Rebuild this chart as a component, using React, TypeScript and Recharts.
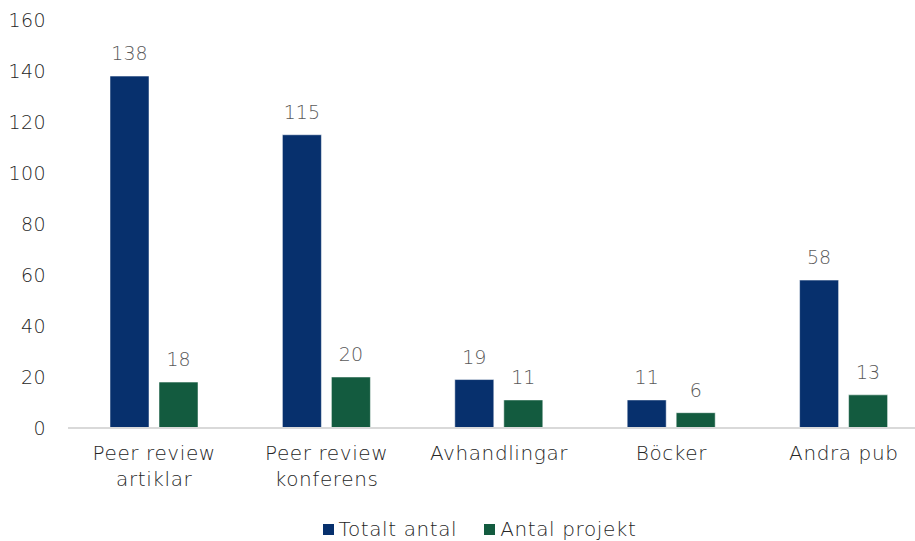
import React from "react";
import { BarChart, Bar, XAxis, YAxis, Legend, LabelList } from "recharts";

const categories = ["Peer review artiklar", "Peer review konferens", "Avhandlingar", "Böcker", "Andra pub"];
const totaltAntal = [138, 115, 19, 11, 58];
const antalProjekt = [18, 20, 11, 6, 13];
const yTicks = [0, 20, 40, 60, 80, 100, 120, 140, 160];

const BLUE = "#07306d";
const GREEN = "#135b3f";
const FONT = "'DejaVu Sans', sans-serif";
const WEIGHT = 200;

const data = categories.map((name, i) => ({
  name,
  totalt: totaltAntal[i],
  projekt: antalProjekt[i],
}));

// split "Peer review xxx" into two lines like the original
const CategoryTick = (props: any) => {
  const { x, y, payload } = props;
  const words: string[] = payload.value.split(" ");
  const lines = payload.value.startsWith("Peer review") ? ["Peer review", words.slice(2).join(" ")] : [payload.value];
  return (
    <text x={x} y={y} textAnchor="middle" fill="#262626" fontSize={20} letterSpacing={0.6} fontFamily={FONT} fontWeight={WEIGHT}>
      {lines.map((l, i) => (
        <tspan key={i} x={x} dy={i === 0 ? 24 : 26}>
          {l}
        </tspan>
      ))}
    </text>
  );
};

const LegendContent = () => (
  <div style={{ display: "flex", justifyContent: "center", gap: 27, fontFamily: FONT, fontWeight: WEIGHT, fontSize: 20, lineHeight: "20px", letterSpacing: 0.6, color: "#262626", paddingLeft: 29, marginTop: 8 }}>
    {[
      { label: "Totalt antal", color: BLUE },
      { label: "Antal projekt", color: GREEN },
    ].map((item) => (
      <div key={item.label} style={{ display: "flex", alignItems: "center", gap: 5 }}>
        <span style={{ width: 11, height: 11, background: item.color, display: "inline-block" }} />
        <span>{item.label}</span>
      </div>
    ))}
  </div>
);

export default function App() {
  return (
    <div style={{ position: "fixed", left: 0, top: 0, width: 915, height: 541, overflow: "hidden", background: "#fff" }}>
      <BarChart
        width={930}
        height={541}
        data={data}
        margin={{ top: 20, right: 0, left: 0, bottom: 0 }}
        barGap={10}
        barSize={39}
      >
        <XAxis
          dataKey="name"
          tickLine={false}
          axisLine={{ stroke: "#d9d9d9", strokeWidth: 2 }}
          tick={<CategoryTick />}
          interval={0}
          height={83}
        />
        <YAxis
          domain={[0, 160]}
          ticks={yTicks}
          tickLine={false}
          axisLine={false}
          width={68}
          tick={{ fill: "#262626", fontSize: 19, letterSpacing: 0.4, fontFamily: FONT, fontWeight: WEIGHT }}
          tickMargin={16}
        />
        <Legend verticalAlign="bottom" height={30} content={<LegendContent />} />
        <Bar dataKey="totalt" name="Totalt antal" fill={BLUE} stroke="#ffffff" strokeWidth={0.5} isAnimationActive={false}>
          <LabelList dataKey="totalt" position="top" offset={16} fill="#595959" fontSize={19} fontFamily={FONT} fontWeight={WEIGHT} />
        </Bar>
        <Bar dataKey="projekt" name="Antal projekt" fill={GREEN} stroke="#ffffff" strokeWidth={0.5} isAnimationActive={false}>
          <LabelList dataKey="projekt" position="top" offset={16} fill="#595959" fontSize={19} fontFamily={FONT} fontWeight={WEIGHT} />
        </Bar>
      </BarChart>
    </div>
  );
}
